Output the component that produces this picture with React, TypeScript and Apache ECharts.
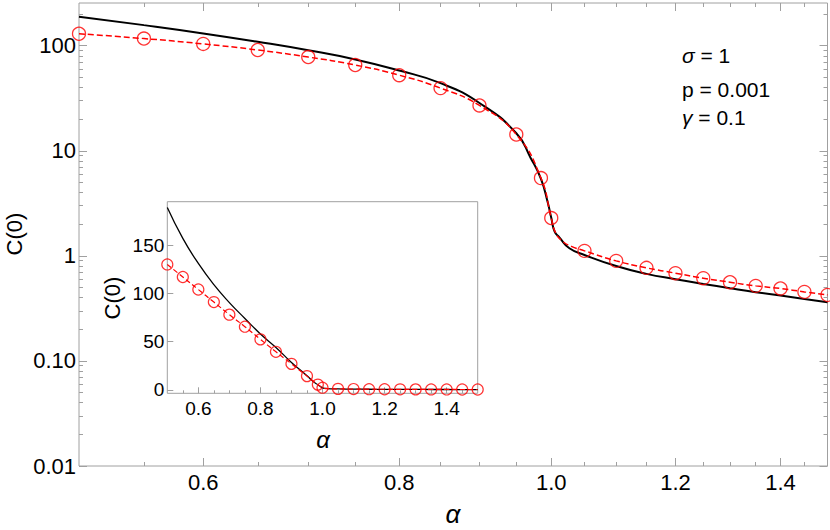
import React, { useEffect, useRef } from "react";
import * as echarts from "echarts";

// ---- data ----
const blackAlpha = [0.5, 0.55, 0.6, 0.65, 0.7, 0.75, 0.8, 0.85, 0.9, 0.95, 0.97, 0.985, 0.995, 1.0, 1.005, 1.012, 1.027, 1.05, 1.1, 1.15, 1.2, 1.25, 1.3, 1.35, 1.4, 1.45, 1.5];
const blackC = [189, 157, 131, 109, 90.5, 74, 58, 44, 28.5, 14.7, 8.6, 5.4, 3.2, 2.3, 1.7, 1.5, 1.18, 1.02, 0.8, 0.674, 0.6, 0.541, 0.492, 0.451, 0.419, 0.389, 0.362];

const circleAlpha = [0.5, 0.55, 0.6, 0.65, 0.7, 0.75, 0.8, 0.85, 0.9, 0.95, 0.985, 1.0, 1.05, 1.1, 1.15, 1.2, 1.25, 1.3, 1.35, 1.4, 1.45, 1.5];
const circleC = [130, 117, 104, 91, 78, 65.5, 52.4, 39.5, 27, 14.3, 5.5, 2.29, 1.116, 0.896, 0.769, 0.684, 0.613, 0.561, 0.518, 0.489, 0.454, 0.425];

// extra points at the knee
const redKneeAlpha = [1.006, 1.017, 1.03];
const redKneeC = [1.68, 1.37, 1.23];

const alphaMajor = [0.6, 0.8, 1.0, 1.2, 1.4];
const alphaMajorLabels = ["0.6", "0.8", "1.0", "1.2", "1.4"];
const alphaMinor = [0.55, 0.65, 0.7, 0.75, 0.85, 0.9, 0.95, 1.05, 1.1, 1.15, 1.25, 1.3, 1.35, 1.45];
const cMajor = [0.01, 0.1, 1, 10, 100];
const cMajorLabels = ["0.01", "0.10", "1", "10", "100"];
const cMinor = [
  0.02, 0.03, 0.04, 0.05, 0.06, 0.07, 0.08, 0.09,
  0.2, 0.3, 0.4, 0.5, 0.6, 0.7, 0.8, 0.9,
  2, 3, 4, 5, 6, 7, 8, 9,
  20, 30, 40, 50, 60, 70, 80, 90,
  200,
];
const insetCMajor = [0, 50, 100, 150];

const FONT = "'Liberation Sans', Arial, Helvetica, sans-serif";
const GRAY = "#a0a0a0";

function pairs(xs: number[], ys: number[]) {
  return xs.map((x, i) => [x, ys[i]]);
}

function labelFor(v: number, vals: number[], labels: string[]) {
  const i = vals.findIndex((t) => Math.abs(t - v) <= Math.abs(t) * 1e-6 + 1e-12);
  return i >= 0 ? labels[i] : "";
}

export default function App() {
  const ref = useRef<HTMLDivElement>(null);
  useEffect(() => {
    if (!ref.current) return;
    const chart = echarts.init(ref.current, null, { renderer: "svg" });

    const redLine = pairs(circleAlpha, circleC)
      .concat(pairs(redKneeAlpha, redKneeC))
      .sort((a, b) => a[0] - b[0]);

    const tickStyle = { color: GRAY, width: 1 };
    const mkX = (grid: number, type: string, pos: string, vals: number[], len: number, labels: boolean, extra: any = {}) => ({
      type,
      gridIndex: grid,
      position: pos,
      logBase: 10,
      min: 0.5,
      max: 1.5,
      axisLine: { show: false, onZero: false },
      splitLine: { show: false },
      axisTick: { show: true, inside: true, length: len, customValues: vals, lineStyle: tickStyle },
      axisLabel: labels ? extra.axisLabel : { show: false },
    });

    const mainXLabel = {
      show: true,
      customValues: alphaMajor,
      margin: 5,
      color: "#000",
      fontSize: 22,
      fontFamily: FONT,
      formatter: (v: number) => labelFor(v, alphaMajor, alphaMajorLabels),
    };
    const mkYMain = (pos: string, vals: number[], len: number, labels: boolean) => ({
      type: "log",
      logBase: 10,
      gridIndex: 0,
      position: pos,
      min: 0.01,
      max: 255,
      axisLine: { show: false, onZero: false },
      splitLine: { show: false },
      axisTick: { show: true, inside: true, length: len, customValues: vals, lineStyle: tickStyle },
      axisLabel: labels
        ? {
            show: true,
            customValues: cMajor,
            margin: 3,
            color: "#000",
            fontSize: 22,
            fontFamily: FONT,
            formatter: (v: number) => labelFor(v, cMajor, cMajorLabels),
          }
        : { show: false },
    });

    const lineCommon = { showSymbol: false, smooth: 0.5 };

    const option: any = {
      animation: false,
      backgroundColor: "#fff",
      grid: [
        { left: 79, top: 3, width: 748.5, height: 463, show: true, borderColor: GRAY, borderWidth: 1, backgroundColor: "transparent" },
        { left: 167.3, top: 201.7, width: 310.4, height: 191.6, show: true, borderColor: GRAY, borderWidth: 1, backgroundColor: "#fff" },
      ],
      xAxis: [
        mkX(0, "log", "bottom", alphaMajor, 8, true, { axisLabel: mainXLabel }),
        mkX(0, "log", "bottom", alphaMinor, 4, false),
        mkX(0, "log", "top", alphaMajor, 8, false),
        mkX(0, "log", "top", alphaMinor, 4, false),
        mkX(1, "value", "bottom", alphaMajor, 6, true, {
          axisLabel: {
            show: true,
            customValues: alphaMajor,
            margin: 6,
            color: "#000",
            fontSize: 19,
            fontFamily: FONT,
            formatter: (v: number) => labelFor(v, alphaMajor, alphaMajorLabels),
          },
        }),
        mkX(1, "value", "bottom", alphaMinor, 3, false),
      ],
      yAxis: [
        mkYMain("left", cMajor, 8, true),
        mkYMain("left", cMinor, 4, false),
        mkYMain("right", cMajor, 8, false),
        mkYMain("right", cMinor, 4, false),
        {
          type: "value",
          gridIndex: 1,
          position: "left",
          min: -3.5,
          max: 195,
          axisLine: { show: false, onZero: false },
          splitLine: { show: false },
          axisTick: { show: true, inside: true, length: 6, customValues: insetCMajor, lineStyle: tickStyle },
          axisLabel: {
            show: true,
            customValues: insetCMajor,
            margin: 3,
            color: "#000",
            fontSize: 19,
            fontFamily: FONT,
          },
        },
      ],
      series: [
        {
          type: "line",
          xAxisIndex: 0,
          yAxisIndex: 0,
          data: pairs(blackAlpha, blackC),
          ...lineCommon,
          lineStyle: { color: "#000", width: 2 },
          z: 2,
        },
        {
          type: "line",
          xAxisIndex: 0,
          yAxisIndex: 0,
          data: redLine,
          ...lineCommon,
          lineStyle: { color: "#ff0000", width: 1.5, type: [6, 3] },
          z: 3,
        },
        {
          type: "scatter",
          xAxisIndex: 0,
          yAxisIndex: 0,
          data: pairs(circleAlpha, circleC),
          symbol: "circle",
          symbolSize: 13,
          itemStyle: { color: "rgba(0,0,0,0)", borderColor: "#ff0000", borderWidth: 1.3 },
          z: 4,
        },
        {
          type: "line",
          xAxisIndex: 4,
          yAxisIndex: 4,
          data: pairs(blackAlpha, blackC),
          ...lineCommon,
          lineStyle: { color: "#000", width: 1.3 },
          z: 5,
        },
        {
          type: "line",
          xAxisIndex: 4,
          yAxisIndex: 4,
          data: redLine,
          ...lineCommon,
          lineStyle: { color: "#ff0000", width: 1.2, type: [5, 3] },
          z: 6,
        },
        {
          type: "scatter",
          xAxisIndex: 4,
          yAxisIndex: 4,
          data: pairs(circleAlpha, circleC),
          symbol: "circle",
          symbolSize: 11,
          itemStyle: { color: "rgba(0,0,0,0)", borderColor: "#ff0000", borderWidth: 1.2 },
          z: 7,
        },
      ],
      graphic: [
        {
          type: "text",
          x: 682,
          y: 55,
          style: {
            text: "{i|σ} = 1",
            fontSize: 21,
            fontFamily: FONT,
            fill: "#000",
            verticalAlign: "middle",
            align: "left",
            rich: { i: { fontStyle: "italic", fontSize: 21, fontFamily: FONT } },
          },
        },
        {
          type: "text",
          x: 682,
          y: 89,
          style: { text: "p = 0.001", fontSize: 21, fontFamily: FONT, fill: "#000", verticalAlign: "middle", align: "left" },
        },
        {
          type: "text",
          x: 682,
          y: 117,
          style: {
            text: "{i|γ} = 0.1",
            fontSize: 21,
            fontFamily: FONT,
            fill: "#000",
            verticalAlign: "middle",
            align: "left",
            rich: { i: { fontStyle: "italic", fontSize: 21, fontFamily: FONT } },
          },
        },
        {
          type: "text",
          x: 453,
          y: 514,
          style: { text: "α", fontSize: 26, fontStyle: "italic", fontFamily: FONT, fill: "#000", align: "center", verticalAlign: "middle" },
        },
        {
          type: "text",
          x: 14,
          y: 234,
          rotation: Math.PI / 2,
          style: { text: "C(0)", fontSize: 22, fontFamily: FONT, fill: "#000", align: "center", verticalAlign: "middle" },
        },
        {
          type: "text",
          x: 323,
          y: 439,
          style: { text: "α", fontSize: 24, fontStyle: "italic", fontFamily: FONT, fill: "#000", align: "center", verticalAlign: "middle" },
        },
        {
          type: "text",
          x: 112.5,
          y: 298,
          rotation: Math.PI / 2,
          style: { text: "C(0)", fontSize: 22, fontFamily: FONT, fill: "#000", align: "center", verticalAlign: "middle" },
        },
      ],
    };

    chart.setOption(option);
    return () => chart.dispose();
  }, []);

  return (
    <div
      ref={ref}
      style={{ position: "fixed", left: 0, top: 0, width: 830, height: 530, background: "#fff" }}
    />
  );
}
